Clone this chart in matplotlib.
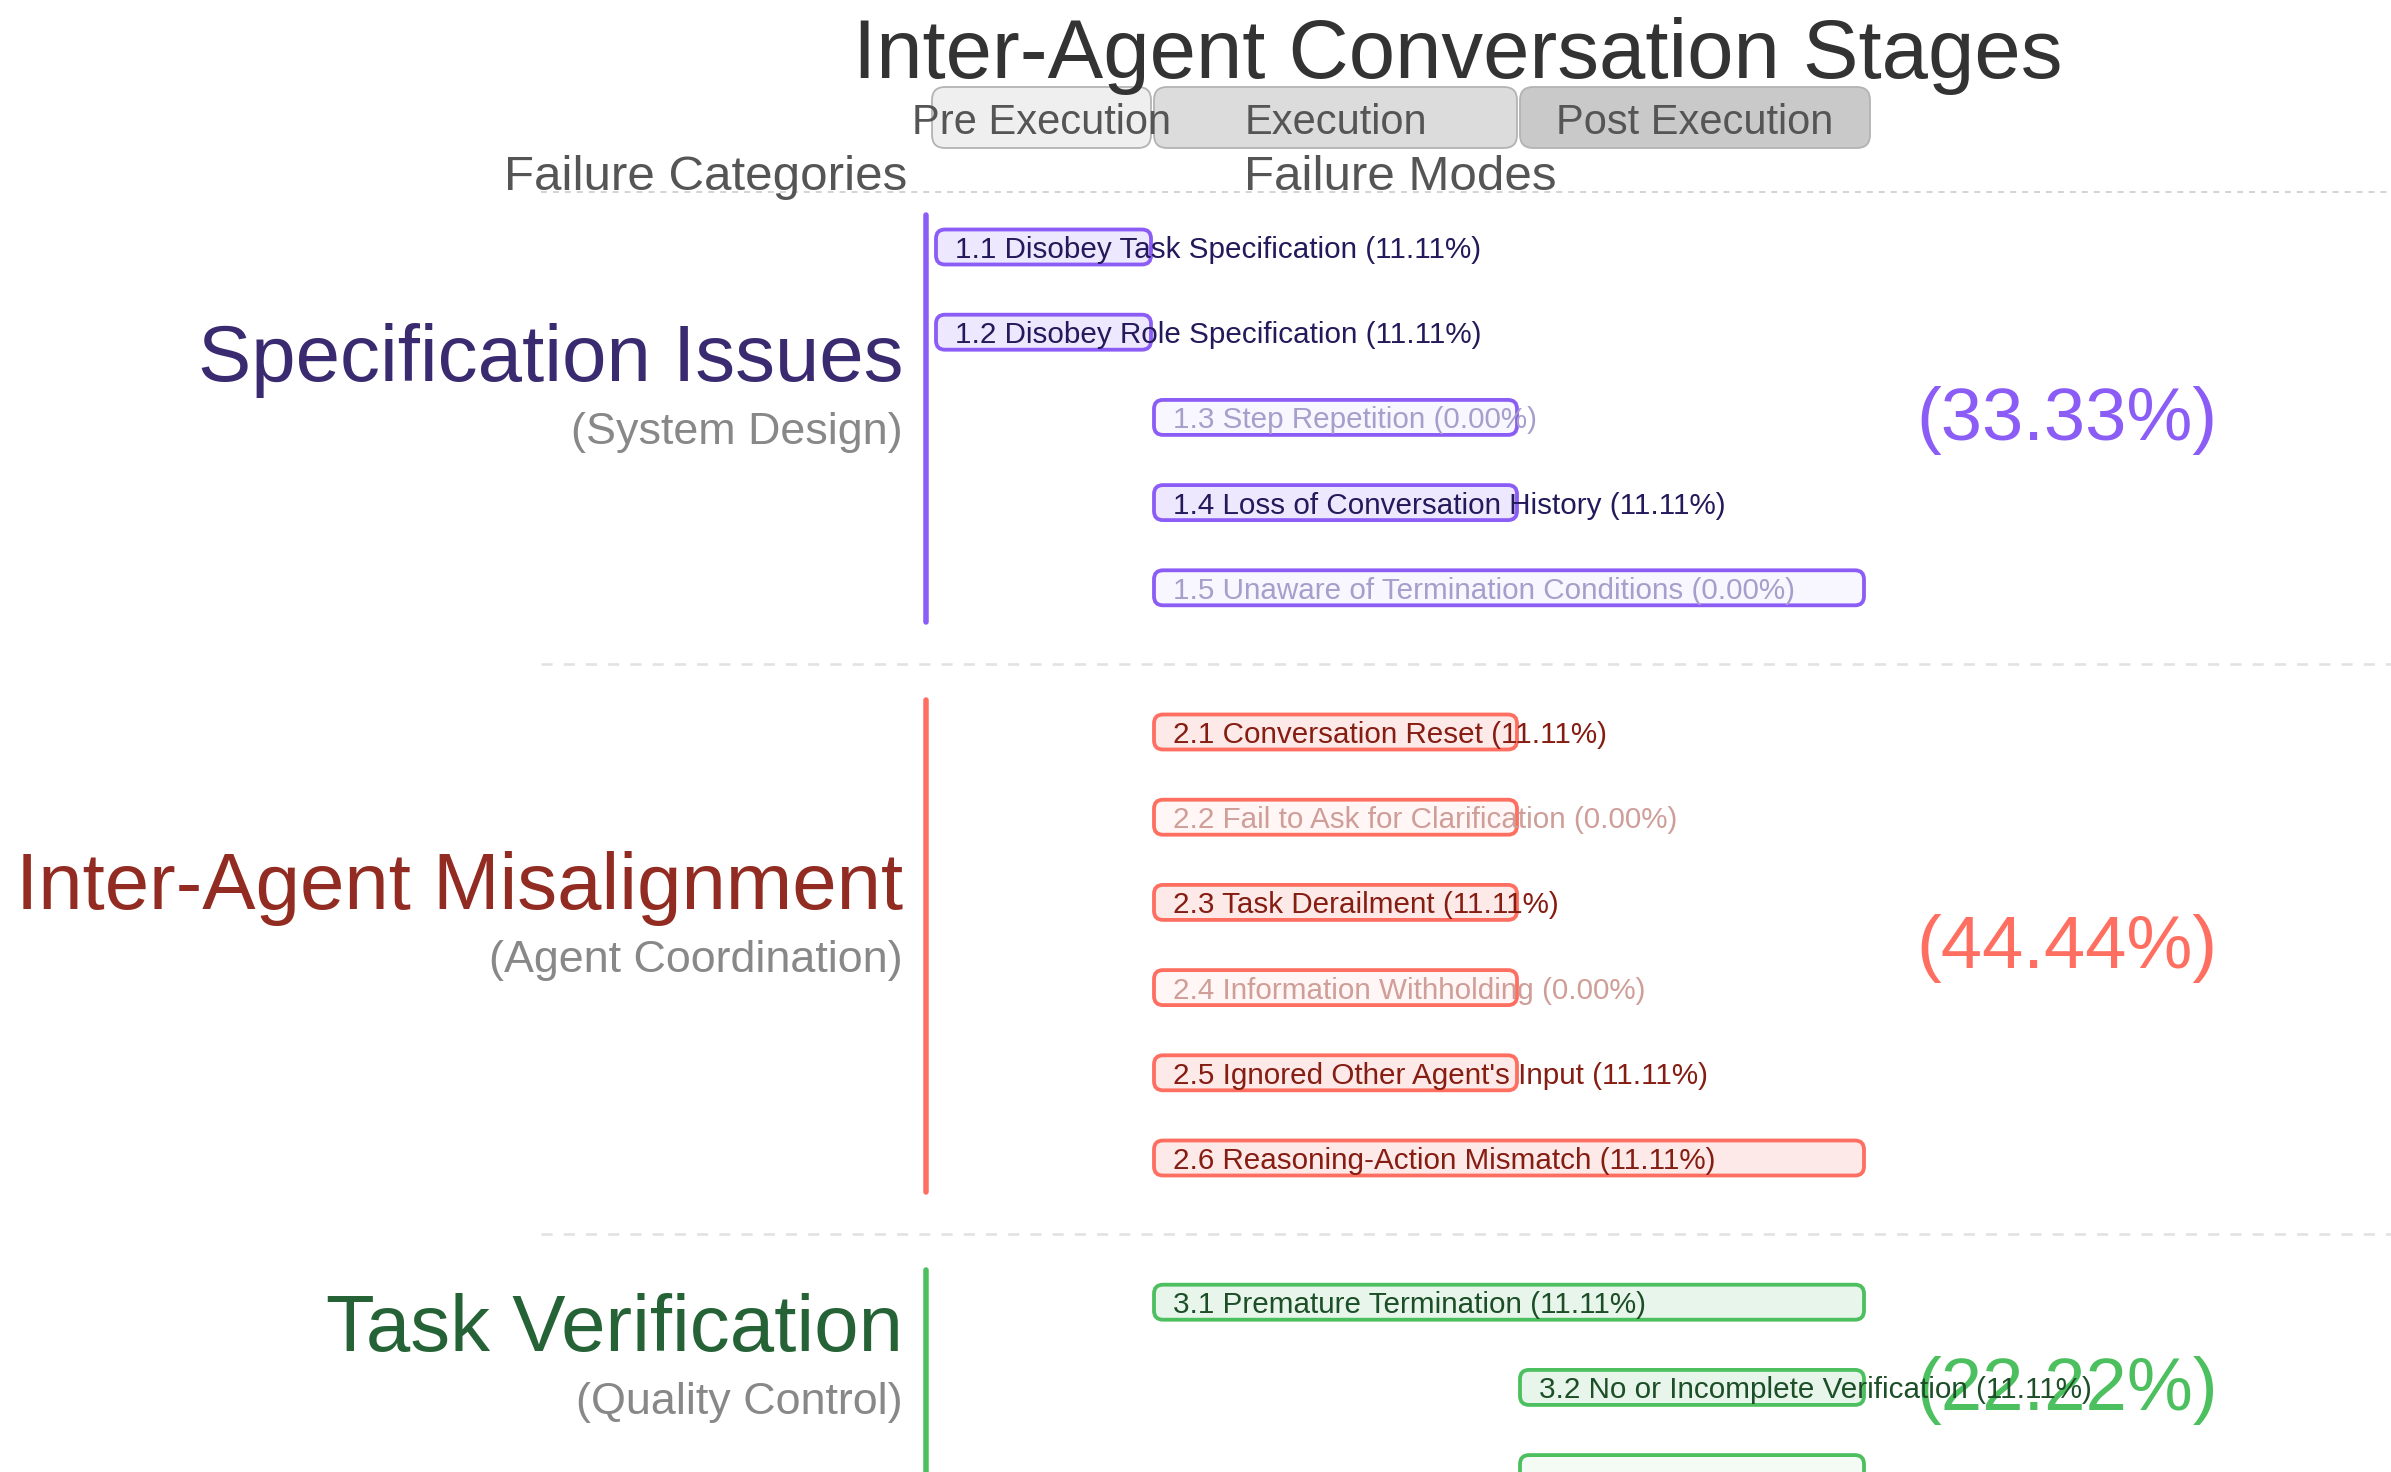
import matplotlib
matplotlib.use("Agg")
import matplotlib.pyplot as plt
from matplotlib.patches import FancyBboxPatch

plt.rcParams['font.family'] = ['Liberation Sans', 'DejaVu Sans']
plt.rcParams['lines.scale_dashes'] = False

# ---------------- data ----------------
title = "Inter-Agent Conversation Stages"
stages = ["Pre Execution", "Execution", "Post Execution"]
header_left = "Failure Categories"
header_mid = "Failure Modes"

categories = ["Specification Issues", "Inter-Agent Misalignment", "Task Verification"]
subtitles = ["(System Design)", "(Agent Coordination)", "(Quality Control)"]
category_pct = [33.33, 44.44, 22.22]

spec_codes = ["1.1", "1.2", "1.3", "1.4", "1.5"]
spec_names = ["Disobey Task Specification", "Disobey Role Specification",
              "Step Repetition", "Loss of Conversation History",
              "Unaware of Termination Conditions"]
spec_pct = [11.11, 11.11, 0.00, 11.11, 0.00]
spec_stage_from = [0, 0, 1, 1, 1]
spec_stage_to = [0, 0, 1, 1, 2]

misalign_codes = ["2.1", "2.2", "2.3", "2.4", "2.5", "2.6"]
misalign_names = ["Conversation Reset", "Fail to Ask for Clarification",
                  "Task Derailment", "Information Withholding",
                  "Ignored Other Agent's Input", "Reasoning-Action Mismatch"]
misalign_pct = [11.11, 0.00, 11.11, 0.00, 11.11, 11.11]
misalign_stage_from = [1, 1, 1, 1, 1, 1]
misalign_stage_to = [1, 1, 1, 1, 1, 2]

verif_codes = ["3.1", "3.2", "3.3"]
verif_names = ["Premature Termination", "No or Incomplete Verification",
               "Incorrect Verification"]
verif_pct = [11.11, 11.11, 0.00]
verif_stage_from = [1, 2, 2]
verif_stage_to = [2, 2, 2]

codes = [spec_codes, misalign_codes, verif_codes]
names = [spec_names, misalign_names, verif_names]
pcts = [spec_pct, misalign_pct, verif_pct]
st_from = [spec_stage_from, misalign_stage_from, verif_stage_from]
st_to = [spec_stage_to, misalign_stage_to, verif_stage_to]

# ---------------- style ----------------
title_colors = ["#3a2a70", "#922b21", "#256336"]
accent = ["#8b5cf6", "#ff6f61", "#4cbf5e"]
fill_on = ["#ede8fd", "#fde9e7", "#e8f5ea"]
fill_off = ["#f8f6fe", "#fff6f5", "#f4fbf5"]
text_on = ["#24195a", "#861d13", "#1c4f27"]
text_off = ["#a79fcb", "#cf9e98", "#9cc9a4"]
stage_fill = ["#efefef", "#dcdcdc", "#c9c9c9"]

W, H = 2391, 1472
PT = 72 / 100.0
fig = plt.figure(figsize=(W / 100, H / 100), dpi=100)
ax = fig.add_axes([0, 0, 1, 1])
ax.set_xlim(0, W)
ax.set_ylim(H, 0)
ax.axis('off')

# stage header boxes (pixel layout)
stage_x0 = [932, 1154, 1520]
stage_x1 = [1151, 1517, 1870]
bar_x0 = [936, 1154, 1520]
bar_x1 = [1151, 1517, 1864]
stage_y0, stage_y1 = 87, 148
for i, s in enumerate(stages):
    ax.add_patch(FancyBboxPatch((stage_x0[i], stage_y0), stage_x1[i] - stage_x0[i],
                                stage_y1 - stage_y0,
                                boxstyle="round,pad=0,rounding_size=13",
                                fc=stage_fill[i], ec="#b3b3b3", lw=1.8 * PT, zorder=2))
    ax.text((stage_x0[i] + stage_x1[i]) / 2, (stage_y0 + stage_y1) / 2 + 6, s,
            fontsize=30, color="#555555", ha='center', va='center', zorder=3)

ax.text(1458, 56, title, fontsize=60, color="#333333", ha='center', va='center', zorder=4)
ax.text(907, 178, header_left, fontsize=35.5, color="#555555", ha='right', va='center')
ax.text(1400, 178, header_mid, fontsize=35.5, color="#555555", ha='center', va='center')

# separators
ax.plot([541, W], [192, 192], color="#d0d0d0", lw=1.8 * PT, dashes=(4.3, 4.3), zorder=1)

row_step = 85.2
section_gap = 59
row_y = 247
bar_h = 35
cat_x = 926
label_right = 903

for c in range(len(categories)):
    ys = []
    for j in range(len(codes[c])):
        ys.append(row_y)
        x0 = bar_x0[st_from[c][j]]
        x1 = bar_x1[st_to[c][j]]
        on = pcts[c][j] > 0
        ax.add_patch(FancyBboxPatch((x0, row_y - bar_h / 2), x1 - x0, bar_h,
                                    boxstyle="round,pad=0,rounding_size=9",
                                    fc=fill_on[c] if on else fill_off[c],
                                    ec=accent[c], lw=3.8 * PT, zorder=3))
        # labels whose row lies past the bottom edge are not shown (as in the reference)
        if row_y + 10 < H:
            ax.text(x0 + 19, row_y + 3, f"{codes[c][j]} {names[c][j]} ({pcts[c][j]:.2f}%)",
                    fontsize=21.3, color=text_on[c] if on else text_off[c],
                    ha='left', va='center', zorder=4)
        row_y += row_step
    top, bot = ys[0], ys[-1]
    mid = (top + bot) / 2
    ax.plot([cat_x, cat_x], [top - 32, bot + 34], color=accent[c], lw=5.5 * PT,
            solid_capstyle='round', zorder=3)
    ax.text(label_right, mid - 57, categories[c], fontsize=57.5, color=title_colors[c],
            ha='right', va='center')
    ax.text(label_right, mid + 15, subtitles[c], fontsize=32.3, color="#888888",
            ha='right', va='center')
    ax.text(2067, mid + 3, f"({category_pct[c]:.2f}%)", fontsize=53.5, color=accent[c],
            ha='center', va='center', zorder=2)
    if c < len(categories) - 1:
        sep_y = bot + (row_step + section_gap) / 2 + 4
        ax.plot([541, W], [sep_y, sep_y], color="#e2e2e2", lw=2.6 * PT,
                dashes=(8, 8), zorder=1)
        row_y += section_gap

fig.savefig("out.png", dpi=100)
